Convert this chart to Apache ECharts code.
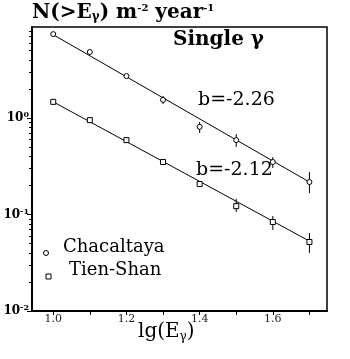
<!DOCTYPE html>
<html>
<head>
<meta charset="utf-8">
<script src="https://cdn.jsdelivr.net/npm/echarts@6/dist/echarts.min.js"></script>
<style>
  html, body { margin: 0; padding: 0; background: #fff; }
  #chart { width: 350px; height: 359px; }
</style>
</head>
<body>
<div id="chart"></div>
<script>
// lg(E) positions
var lgE = [1.0, 1.1, 1.2, 1.3, 1.4, 1.5, 1.6, 1.7];

// Chacaltaya, N(>E) m^-2 year^-1
var chacaltaya = [7.4, 4.83, 2.72, 1.54, 0.81, 0.59, 0.35, 0.217];
var chacaltayaHigh = [7.7, 5.05, 2.85, 1.69, 0.91, 0.68, 0.394, 0.276];
var chacaltayaLow = [7.15, 4.6, 2.6, 1.40, 0.70, 0.50, 0.303, 0.167];

// Tien-Shan
var tienShan = [1.47, 0.95, 0.59, 0.35, 0.207, 0.122, 0.0836, 0.0519];
var tienShanHigh = [1.52, 0.99, 0.62, 0.37, 0.222, 0.145, 0.0964, 0.0643];
var tienShanLow = [1.42, 0.91, 0.56, 0.33, 0.192, 0.106, 0.069, 0.040];

// power-law fits, end points
var fitX = [1.0, 1.7];
var fitChacaltaya = [7.3, 0.217];
var fitTienShan = [1.47, 0.053];

var xTicks = [1.0, 1.1, 1.2, 1.3, 1.4, 1.5, 1.6, 1.7];
var xLabels = [1.0, 1.2, 1.4, 1.6];
var yDecades = [-2, -1, 0];

var serif = '"DejaVu Serif", "Liberation Serif", serif';

function lg(v) { return Math.log10(v); }

function pts(ys) {
  var out = [];
  for (var i = 0; i < ys.length; i++) out.push([lgE[i], lg(ys[i])]);
  return out;
}
function bars(lo, hi) {
  var out = [];
  for (var i = 0; i < lo.length; i++) out.push([lgE[i], lg(lo[i]), lg(hi[i])]);
  return out;
}
function line(ys) {
  return [[fitX[0], lg(ys[0])], [fitX[1], lg(ys[1])]];
}

// minor log ticks 2..9 of each decade
var yMinor = [];
for (var d = -2; d < 1; d++) {
  for (var k = 2; k <= 9; k++) {
    var v = d + lg(k);
    if (v < 0.943) yMinor.push(v);
  }
}

function errItem(params, api) {
  var a = api.coord([api.value(0), api.value(1)]);
  var b = api.coord([api.value(0), api.value(2)]);
  return {
    type: 'line',
    shape: { x1: a[0], y1: a[1], x2: b[0], y2: b[1] },
    style: { stroke: '#000', lineWidth: 1 }
  };
}

var chart = echarts.init(document.getElementById('chart'));
chart.setOption({
  animation: false,
  backgroundColor: '#fff',
  grid: {
    left: 32, right: 23, top: 27, bottom: 48,
    show: true, borderColor: '#000', borderWidth: 1.5, backgroundColor: 'transparent'
  },
  xAxis: {
    type: 'value', min: 0.942, max: 1.748,
    axisLine: { onZero: false, lineStyle: { color: '#000', width: 2 } },
    splitLine: { show: false },
    axisTick: { customValues: xTicks, length: 4, lineStyle: { color: '#000' } },
    axisLabel: {
      customValues: xLabels, color: '#222', fontFamily: serif, fontSize: 11, margin: 3,
      formatter: function (v) { return v.toFixed(1); }
    }
  },
  yAxis: [{
    type: 'value', min: -2, max: 0.943,
    axisLine: { onZero: false, lineStyle: { color: '#000', width: 2 } },
    splitLine: { show: false },
    axisTick: { customValues: yDecades, length: 5, lineStyle: { color: '#000' } },
    axisLabel: {
      customValues: yDecades, margin: 3,
      formatter: function (v) { return '{b|10}{s|' + v + '}'; },
      rich: {
        b: { fontFamily: serif, fontSize: 12, fontWeight: 'bold', color: '#000' },
        s: { fontFamily: serif, fontSize: 8, fontWeight: 'bold', color: '#000', verticalAlign: 'top', padding: [0, 0, 6, 0] }
      }
    }
  }, {
    type: 'value', min: -2, max: 0.943, position: 'left',
    axisLine: { show: false },
    splitLine: { show: false },
    axisLabel: { show: false },
    axisTick: { show: true, customValues: yMinor, length: 3, lineStyle: { color: '#000' } }
  }],
  series: [
    { type: 'line', data: line(fitChacaltaya), symbol: 'none', lineStyle: { color: '#000', width: 1 }, z: 1 },
    { type: 'line', data: line(fitTienShan), symbol: 'none', lineStyle: { color: '#000', width: 1 }, z: 1 },
    { type: 'custom', data: bars(chacaltayaLow, chacaltayaHigh), renderItem: errItem, encode: { x: 0, y: [1, 2] }, z: 2 },
    { type: 'custom', data: bars(tienShanLow, tienShanHigh), renderItem: errItem, encode: { x: 0, y: [1, 2] }, z: 2 },
    {
      name: 'Chacaltaya', type: 'scatter', data: pts(chacaltaya), symbol: 'circle', symbolSize: 5,
      itemStyle: { color: '#fff', borderColor: '#000', borderWidth: 1, opacity: 1 }, z: 3
    },
    {
      name: 'Tien-Shan', type: 'scatter', data: pts(tienShan), symbol: 'rect', symbolSize: 5,
      itemStyle: { color: '#fff', borderColor: '#000', borderWidth: 1, opacity: 1 }, z: 3
    }
  ],
  graphic: [
    {
      type: 'text', left: 32, top: 3,
      style: {
        text: '{m|N(>E}{sub|γ}{m|) m}{sup|-2}{m| year}{sup|-1}',
        rich: {
          m: { fontFamily: serif, fontSize: 20, fontWeight: 'bold', fill: '#000' },
          sub: { fontFamily: serif, fontSize: 12, fontWeight: 'bold', fill: '#000', verticalAlign: 'bottom', padding: [8, 0, 0, 0] },
          sup: { fontFamily: serif, fontSize: 10, fontWeight: 'bold', fill: '#000', verticalAlign: 'top', padding: [0, 0, 8, 0] }
        }
      }
    },
    { type: 'text', left: 173, top: 30, style: { text: 'Single γ', font: 'bold 20px ' + serif, fill: '#000' } },
    { type: 'text', left: 198, top: 91, style: { text: 'b=-2.26', font: '19px ' + serif, fill: '#000' } },
    { type: 'text', left: 196, top: 161, style: { text: 'b=-2.12', font: '19px ' + serif, fill: '#000' } },
    { type: 'circle', shape: { cx: 46, cy: 253, r: 2.5 }, style: { fill: '#fff', stroke: '#000', lineWidth: 1 } },
    { type: 'rect', shape: { x: 46, y: 274, width: 5, height: 5 }, style: { fill: '#fff', stroke: '#000', lineWidth: 1 } },
    { type: 'text', left: 63, top: 238, style: { text: 'Chacaltaya', font: '18px ' + serif, fill: '#000' } },
    { type: 'text', left: 69, top: 261, style: { text: 'Tien-Shan', font: '18px ' + serif, fill: '#000' } },
    {
      type: 'text', left: 138, top: 322,
      style: {
        text: '{m|lg(E}{sub|γ}{m|)}',
        rich: {
          m: { fontFamily: serif, fontSize: 20, fill: '#000' },
          sub: { fontFamily: serif, fontSize: 12, fill: '#000', verticalAlign: 'bottom', padding: [9, 0, 0, 0] }
        }
      }
    }
  ]
});
</script>
</body>
</html>
